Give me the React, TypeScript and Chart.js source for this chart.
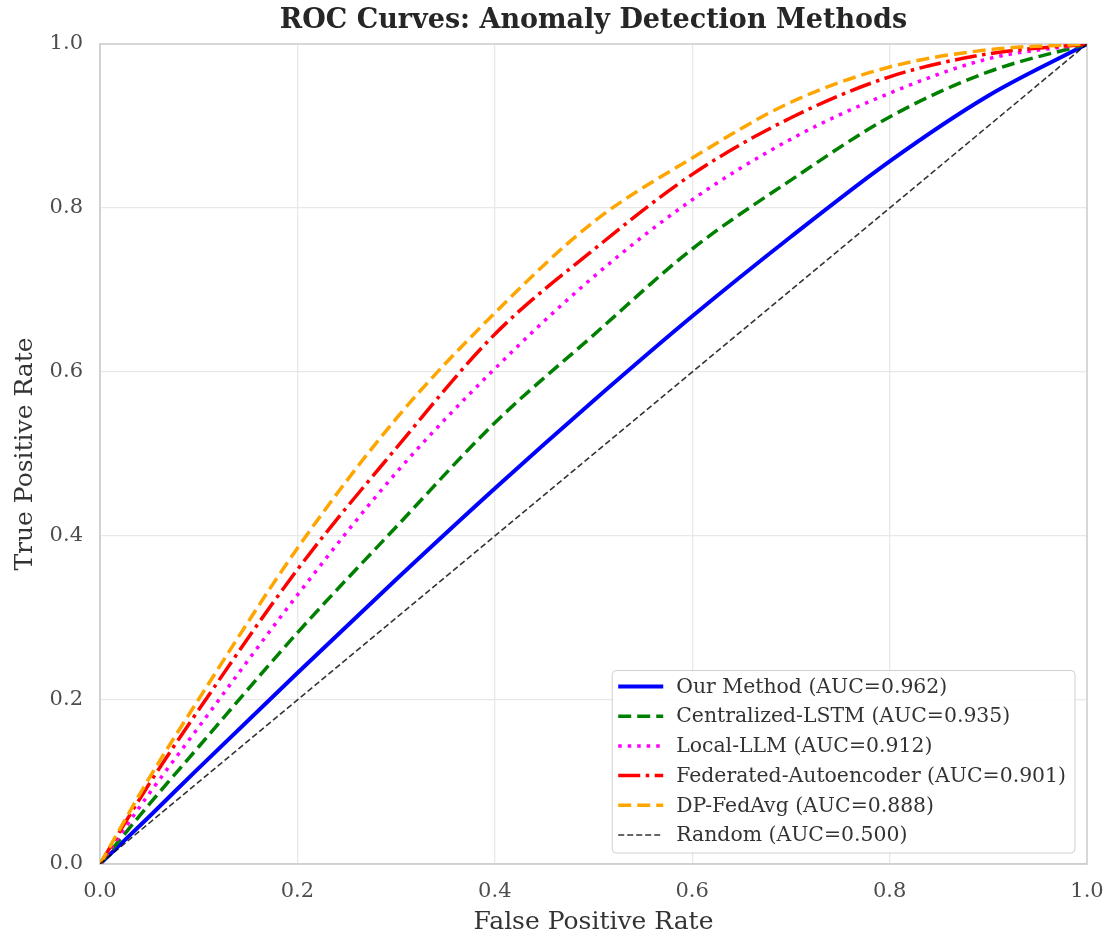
import React, { useEffect, useRef } from "react";
import { Chart, registerables } from "chart.js";

Chart.register(...registerables);

// ---- Data ----
const FPR = [0, 0.05, 0.1, 0.2, 0.3, 0.4, 0.5, 0.6, 0.7, 0.8, 0.9, 1.0];
const OUR_METHOD = [0, 0.058, 0.117, 0.233, 0.347, 0.458, 0.565, 0.668, 0.765, 0.857, 0.937, 1.0];
const CENTRALIZED_LSTM = [0, 0.073, 0.143, 0.282, 0.411, 0.538, 0.645, 0.75, 0.834, 0.911, 0.966, 1.0];
const LOCAL_LLM = [0, 0.086, 0.167, 0.328, 0.477, 0.604, 0.716, 0.81, 0.884, 0.94, 0.982, 1.0];
const FEDERATED_AE = [0, 0.098, 0.188, 0.359, 0.507, 0.646, 0.749, 0.841, 0.91, 0.96, 0.988, 1.0];
const DP_FEDAVG = [0, 0.105, 0.201, 0.385, 0.543, 0.672, 0.783, 0.861, 0.929, 0.972, 0.993, 1.0];
const RANDOM_X = [0, 1];
const RANDOM_Y = [0, 1];

const SERIES_LABELS = [
  "Our Method (AUC=0.962)",
  "Centralized-LSTM (AUC=0.935)",
  "Local-LLM (AUC=0.912)",
  "Federated-Autoencoder (AUC=0.901)",
  "DP-FedAvg (AUC=0.888)",
  "Random (AUC=0.500)",
];
const TICKS = [0, 0.2, 0.4, 0.6, 0.8, 1.0];
const TITLE = "ROC Curves: Anomaly Detection Methods";
const X_TITLE = "False Positive Rate";
const Y_TITLE = "True Positive Rate";

const FONT = "'DejaVu Serif', serif";

const toPts = (xs: number[], ys: number[]) => xs.map((x, i) => ({ x, y: ys[i] }));

const titlePlugin = {
  id: "topTitle",
  afterDraw(chart: any) {
    const { ctx, chartArea } = chart;
    ctx.save();
    ctx.font = `bold 27px ${FONT}`;
    ctx.fillStyle = "#262626";
    ctx.textAlign = "center";
    ctx.textBaseline = "alphabetic";
    ctx.fillText(TITLE, (chartArea.left + chartArea.right) / 2, 28);
    ctx.restore();
  },
};

const framePlugin = {
  id: "frame",
  beforeDatasetsDraw(chart: any) {
    const { ctx, chartArea } = chart;
    ctx.save();
    ctx.strokeStyle = "#cfcfcf";
    ctx.lineWidth = 1.5;
    ctx.strokeRect(chartArea.left, chartArea.top, chartArea.right - chartArea.left, chartArea.bottom - chartArea.top);
    ctx.restore();
  },
};

const legendPlugin = {
  id: "boxLegend",
  afterDraw(chart: any) {
    const { ctx, chartArea } = chart;
    const datasets = chart.data.datasets;
    ctx.save();
    ctx.font = `20.4px ${FONT}`;
    let maxW = 0;
    datasets.forEach((d: any) => {
      maxW = Math.max(maxW, ctx.measureText(d.label).width);
    });
    const rowH = 29.7;
    const padL = 6;
    const sampleW = 45;
    const gap = 13;
    const padR = 9;
    const w = padL + sampleW + gap + maxW + padR;
    const h = 16 + rowH * (datasets.length - 1) + 18;
    const right = chartArea.right - 12;
    const bottom = chartArea.bottom - 11;
    const left = right - w;
    const top = bottom - h;
    ctx.beginPath();
    (ctx as any).roundRect(left, top, w, h, 4);
    ctx.fillStyle = "rgba(255,255,255,0.85)";
    ctx.fill();
    ctx.strokeStyle = "#d0d0d0";
    ctx.lineWidth = 1;
    ctx.stroke();
    datasets.forEach((d: any, i: number) => {
      const cy = top + 16 + i * rowH;
      ctx.save();
      ctx.beginPath();
      ctx.strokeStyle = d.borderColor;
      ctx.lineWidth = d.borderWidth;
      ctx.setLineDash(d.borderDash || []);
      ctx.lineCap = "butt";
      ctx.moveTo(left + padL, cy);
      ctx.lineTo(left + padL + sampleW, cy);
      ctx.stroke();
      ctx.restore();
      ctx.fillStyle = "#333333";
      ctx.textAlign = "left";
      ctx.textBaseline = "middle";
      ctx.fillText(d.label, left + padL + sampleW + gap, cy + 1);
    });
    ctx.restore();
  },
};

export default function App() {
  const ref = useRef<HTMLCanvasElement | null>(null);

  useEffect(() => {
    if (!ref.current) return;
    Chart.defaults.font.family = FONT;
    const common = { pointRadius: 0, fill: false, cubicInterpolationMode: "monotone" as const, showLine: true };
    const chart = new Chart(ref.current, {
      type: "scatter",
      data: {
        datasets: [
          { ...common, label: SERIES_LABELS[0], data: toPts(FPR, OUR_METHOD), borderColor: "#0000ff", backgroundColor: "#0000ff", borderWidth: 4, borderDash: [], order: 6 },
          { ...common, label: SERIES_LABELS[1], data: toPts(FPR, CENTRALIZED_LSTM), borderColor: "#008000", backgroundColor: "#008000", borderWidth: 3.5, borderDash: [13, 6], order: 5 },
          { ...common, label: SERIES_LABELS[2], data: toPts(FPR, LOCAL_LLM), borderColor: "#ff00ff", backgroundColor: "#ff00ff", borderWidth: 3.5, borderDash: [3.5, 6], order: 4 },
          { ...common, label: SERIES_LABELS[3], data: toPts(FPR, FEDERATED_AE), borderColor: "#ff0000", backgroundColor: "#ff0000", borderWidth: 3.5, borderDash: [22, 5.5, 3.5, 5.5], order: 3 },
          { ...common, label: SERIES_LABELS[4], data: toPts(FPR, DP_FEDAVG), borderColor: "#ffa500", backgroundColor: "#ffa500", borderWidth: 3.5, borderDash: [13, 6], order: 2 },
          { ...common, label: SERIES_LABELS[5], data: toPts(RANDOM_X, RANDOM_Y), borderColor: "rgba(0,0,0,0.8)", backgroundColor: "#333", borderWidth: 1.6, borderDash: [6, 3], order: 1 },
        ],
      },
      options: {
        responsive: false,
        animation: false,
        devicePixelRatio: 1,
        layout: { padding: { top: 44, right: 21, left: 0, bottom: 0 } },
        plugins: {
          legend: { display: false },
          title: { display: false },
          tooltip: { enabled: false },
        },
        scales: {
          x: {
            type: "linear",
            min: 0,
            max: 1,
            afterFit: (s: any) => { s.height = 76; s.paddingLeft = 0; s.paddingRight = 0; },
            afterBuildTicks: (s: any) => { s.ticks = TICKS.map((v) => ({ value: v })); },
            ticks: {
              callback: (v: any) => Number(v).toFixed(1),
              font: { size: 21, family: FONT },
              color: "#4d4d4d",
              padding: 15,
              maxRotation: 0,
              autoSkip: false,
            },
            grid: { color: "#e8e8e8", lineWidth: 1.3, drawTicks: false },
            border: { display: true, color: "#cfcfcf", width: 1.5 },
            title: { display: true, text: X_TITLE, font: { size: 25, family: FONT }, color: "#333333", padding: { top: 0, bottom: 3 } },
          },
          y: {
            type: "linear",
            min: 0,
            max: 1,
            afterFit: (s: any) => { s.width = 100; s.paddingTop = 0; s.paddingBottom = 0; },
            afterBuildTicks: (s: any) => { s.ticks = TICKS.map((v) => ({ value: v })); },
            ticks: {
              callback: (v: any) => Number(v).toFixed(1),
              font: { size: 21, family: FONT },
              color: "#4d4d4d",
              padding: 17,
              autoSkip: false,
            },
            grid: { color: "#e8e8e8", lineWidth: 1.3, drawTicks: false },
            border: { display: true, color: "#cfcfcf", width: 1.5 },
            title: { display: true, text: Y_TITLE, font: { size: 25, family: FONT }, color: "#333333", padding: { top: 10, bottom: 0 } },
          },
        },
      },
      plugins: [framePlugin, legendPlugin, titlePlugin],
    });
    return () => chart.destroy();
  }, []);

  return (
    <div style={{ position: "absolute", left: 0, top: 0, width: 1108, height: 940, background: "#ffffff" }}>
      <canvas ref={ref} width={1108} height={940} style={{ display: "block", width: 1108, height: 940 }} />
    </div>
  );
}
